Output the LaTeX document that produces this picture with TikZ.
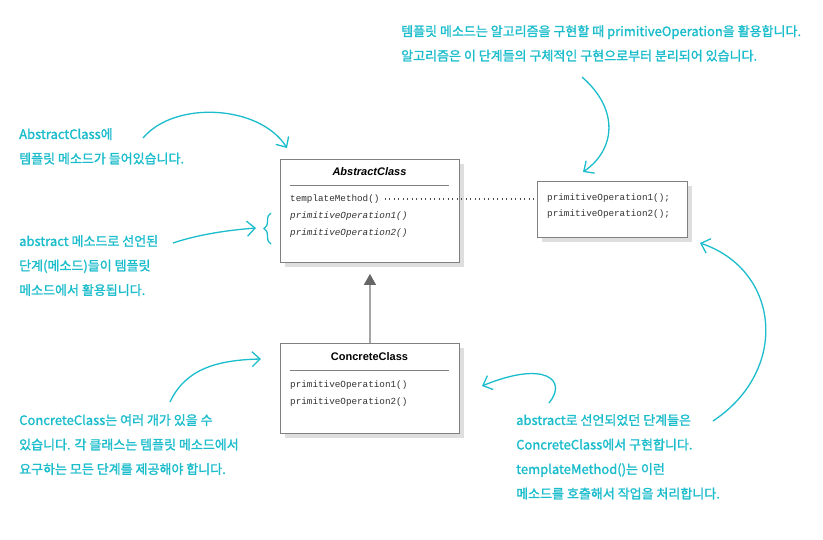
\documentclass[tikz,border=0pt]{standalone}
\usepackage{fontspec}
\setsansfont{Liberation Sans}
\setmonofont{Liberation Mono}
\newfontfamily\cjk{Noto Sans CJK KR}[RawFeature={embolden=1.5}]
\usetikzlibrary{positioning,shadows,arrows.meta,decorations.pathreplacing}
\definecolor{noteCyan}{HTML}{1BBCCB}
\definecolor{boxLine}{HTML}{808080}
\tikzset{
  classBox/.style={rectangle, draw=boxLine, fill=white, line width=0.9pt, anchor=north west, inner sep=0pt,
    drop shadow={shadow xshift=5pt, shadow yshift=-5pt, fill=black!13, opacity=1}},
  className/.style={font={\sffamily\bfseries\fontsize{11}{12}\selectfont}, inner sep=0pt},
  member/.style={font={\ttfamily\fontsize{9.3}{12}\selectfont}, text=black!80, anchor=west, inner sep=0pt},
  note/.style={font={\cjk\fontsize{13}{24.5}\selectfont}, text=noteCyan, align=left, anchor=north west, inner sep=0pt},
  noteArrow/.style={draw=noteCyan, line width=1.3pt, -{Straight Barb[length=8pt,width=15pt]}},
  inherit/.style={draw=black!35, line width=1.4pt, -{Triangle[length=11pt,width=12pt,color=black!60,fill=black!60]}}
}

\begin{document}
\begin{tikzpicture}[x=1pt, y=-1pt]
  \useasboundingbox (0,0) rectangle (823,539);

  % classes
  \node[classBox, minimum width=179pt, minimum height=103pt] (abs) at (280,159) {};
  \node[className] (absTitle) at (369.5,172) {\itshape AbstractClass};
  \draw[boxLine, line width=0.6pt] (290,185) -- (449,185);
  \node[member] (tm) at (290,199) {templateMethod()};
  \node[member] (absOp1) at (290,216) {\itshape primitiveOperation1()};
  \node[member] (absOp2) at (290,233) {\itshape primitiveOperation2()};

  \node[classBox, minimum width=150pt, minimum height=56pt] (calls) at (537,181) {};
  \node[member] (call1) at (547,198) {primitiveOperation1();};
  \node[member] (call2) at (547,214) {primitiveOperation2();};

  \node[classBox, minimum width=179pt, minimum height=90pt] (con) at (280,343) {};
  \node[className] (conTitle) at (369.5,357) {ConcreteClass};
  \draw[boxLine, line width=0.6pt] (290,370) -- (449,370);
  \node[member] (conOp1) at (290,385) {primitiveOperation1()};
  \node[member] (conOp2) at (290,402) {primitiveOperation2()};

  \draw[black!70, line width=1.1pt, dash pattern=on 1pt off 3.5pt, shorten <=5pt] (tm.east) -- (tm.east -| calls.west);
  \draw[inherit, shorten >=11pt] (con.north) -- (abs.south);

  % notes
  \node[note] (noteTop) at (401,25) {템플릿 메소드는 알고리즘을 구현할 때 primitiveOperation을 활용합니다.\\
    알고리즘은 이 단계들의 구체적인 구현으로부터 분리되어 있습니다.};
  \node[note] (noteAbs) at (19,128) {AbstractClass에\\템플릿 메소드가 들어있습니다.};
  \node[note] (noteStep) at (19,235) {abstract 메소드로 선언된\\단계(메소드)들이 템플릿\\메소드에서 활용됩니다.};
  \node[note] (noteCon) at (19,414) {ConcreteClass는 여러 개가 있을 수\\있습니다. 각 클래스는 템플릿 메소드에서\\요구하는 모든 단계를 제공해야 합니다.};
  \node[note] (noteImpl) at (516,414) {abstract로 선언되었던 단계들은\\ConcreteClass에서 구현합니다.\\templateMethod()는 이런\\메소드를 호출해서 작업을 처리합니다.};

  % arrows
  \coordinate (absTip) at (287,148);
  \coordinate (stepTip) at (256,228);
  \coordinate (conTip) at (261,359);
  \coordinate (callsTip) at (583,172);
  \coordinate (implTip) at (482,386);
  \coordinate (rightTip) at (700,243);

  \draw[noteArrow] (143,138) .. controls (175,100) and (260,105) .. (absTip);
  \draw[noteArrow] (173,243) .. controls (200,234) and (230,230) .. (stepTip);
  \draw[noteCyan, line width=1.3pt, decorate, decoration={brace, amplitude=7pt}] (271,244) -- (271,213);
  \draw[noteArrow] (170,402) .. controls (185,370) and (215,360) .. (conTip);
  \draw[noteArrow] (582,77) .. controls (620,110) and (615,150) .. (callsTip);
  \draw[noteArrow] (549,403) .. controls (568,380) and (545,360) .. (implTip);
  \draw[noteArrow] (713,421) .. controls (790,370) and (780,270) .. (rightTip);
\end{tikzpicture}
\end{document}
